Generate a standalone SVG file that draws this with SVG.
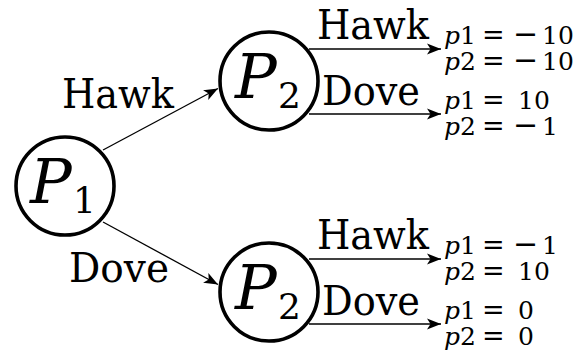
<svg xmlns="http://www.w3.org/2000/svg" width="579" height="353" viewBox="0 0 579 353">
<style>
.node{fill:none;stroke:#000;stroke-width:3.6}
.edge{stroke:#000;stroke-width:1.3;fill:none}
text{fill:#000;font-family:"DejaVu Serif",serif}
.lbl{font-size:41px}
.pl{font-style:italic;font-size:62px}
.sub{font-size:36px}
.pay{font-size:25px}
.it{font-style:italic}
.eq{font-size:27px}
.mi{font-size:30px}
</style>
<defs>
<marker id="ah" markerUnits="userSpaceOnUse" viewBox="-15 -7 16 14" refX="0" refY="0" markerWidth="16" markerHeight="14" orient="auto">
<path d="M0,0 L-14,-5.5 L-10.5,0 L-14,5.5 Z" fill="#000"/>
</marker>
</defs>
<rect width="579" height="353" fill="#fff"/>
<g id="connectors">
<line class="edge" x1="103" y1="150" x2="218" y2="88.5" marker-end="url(#ah)"/>
<line class="edge" x1="103" y1="222" x2="218" y2="284.5" marker-end="url(#ah)"/>
<line class="edge" x1="309" y1="49" x2="441" y2="49" marker-end="url(#ah)"/>
<line class="edge" x1="309" y1="114" x2="441" y2="114" marker-end="url(#ah)"/>
<line class="edge" x1="309" y1="259" x2="441" y2="259" marker-end="url(#ah)"/>
<line class="edge" x1="309" y1="324" x2="441" y2="324" marker-end="url(#ah)"/>
<text class="lbl" x="62" y="108" textLength="112" lengthAdjust="spacingAndGlyphs">Hawk</text>
<text class="lbl" x="69" y="282" textLength="100" lengthAdjust="spacingAndGlyphs">Dove</text>
<text class="lbl" x="317" y="39" textLength="112" lengthAdjust="spacingAndGlyphs">Hawk</text>
<text class="lbl" x="322" y="105" textLength="98" lengthAdjust="spacingAndGlyphs">Dove</text>
<text class="lbl" x="317" y="249" textLength="112" lengthAdjust="spacingAndGlyphs">Hawk</text>
<text class="lbl" x="322" y="315" textLength="98" lengthAdjust="spacingAndGlyphs">Dove</text>
</g>
<g id="P1">
<circle class="node" cx="65" cy="186" r="49"/>
<text class="pl" x="30" y="203">P</text>
<text class="sub" x="73" y="213">1</text>
</g>
<g id="P2-top">
<circle class="node" cx="269" cy="81" r="49"/>
<text class="pl" x="235" y="98">P</text>
<text class="sub" x="278" y="108">2</text>
</g>
<g id="P2-bottom">
<circle class="node" cx="269" cy="292" r="49"/>
<text class="pl" x="235" y="309">P</text>
<text class="sub" x="278" y="319">2</text>
</g>
<g id="payoff-HH">
<text class="pay" y="43.5"><tspan class="it" x="444">p</tspan>1<tspan class="eq" x="482">=</tspan><tspan class="mi" x="513">−</tspan><tspan x="542">10</tspan></text>
<text class="pay" y="69.5"><tspan class="it" x="444">p</tspan>2<tspan class="eq" x="482">=</tspan><tspan class="mi" x="513">−</tspan><tspan x="542">10</tspan></text>
</g>
<g id="payoff-HD">
<text class="pay" y="108.5"><tspan class="it" x="444">p</tspan>1<tspan class="eq" x="482">=</tspan><tspan x="518">10</tspan></text>
<text class="pay" y="134.5"><tspan class="it" x="444">p</tspan>2<tspan class="eq" x="482">=</tspan><tspan class="mi" x="513">−</tspan><tspan x="542">1</tspan></text>
</g>
<g id="payoff-DH">
<text class="pay" y="253.5"><tspan class="it" x="444">p</tspan>1<tspan class="eq" x="482">=</tspan><tspan class="mi" x="513">−</tspan><tspan x="542">1</tspan></text>
<text class="pay" y="279.5"><tspan class="it" x="444">p</tspan>2<tspan class="eq" x="482">=</tspan><tspan x="518">10</tspan></text>
</g>
<g id="payoff-DD">
<text class="pay" y="318.5"><tspan class="it" x="444">p</tspan>1<tspan class="eq" x="482">=</tspan><tspan x="518">0</tspan></text>
<text class="pay" y="344.5"><tspan class="it" x="444">p</tspan>2<tspan class="eq" x="482">=</tspan><tspan x="518">0</tspan></text>
</g>
</svg>
